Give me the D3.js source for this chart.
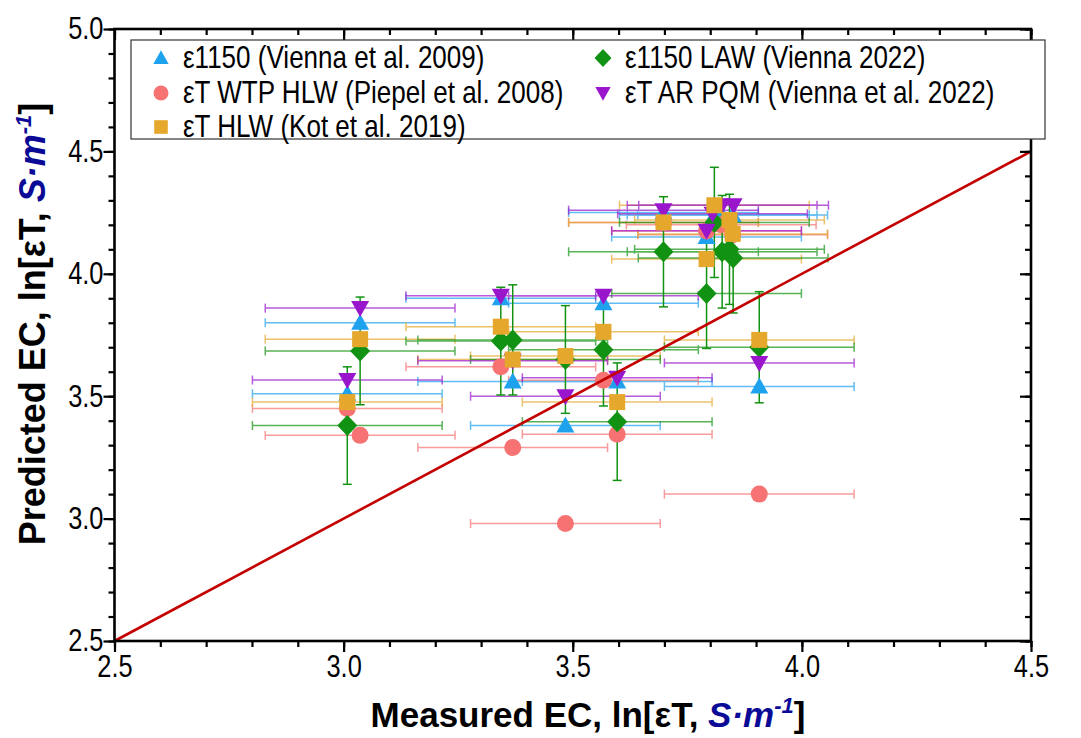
<!DOCTYPE html>
<html><head><meta charset="utf-8">
<script src="https://cdn.jsdelivr.net/npm/d3@7"></script>
<style>body{margin:0;background:#fff;} svg{display:block;font-family:"Liberation Sans",Arial,sans-serif;}</style>
</head><body>
<svg id="chart" width="1081" height="738"></svg>
<script>
// ---- data ----
const seriesNames = ["ε1150 (Vienna et al. 2009)", "εT WTP HLW (Piepel et al. 2008)", "εT HLW (Kot et al. 2019)", "ε1150 LAW (Vienna 2022)", "εT AR PQM (Vienna et al. 2022)"];
const blueX  = [3.008, 3.036, 3.343, 3.369, 3.484, 3.567, 3.597, 3.698, 3.792, 3.809, 3.826, 3.849, 3.907];
const blueY  = [3.51, 3.80, 3.90, 3.56, 3.38, 3.88, 3.56, 4.25, 4.15, 4.24, 4.24, 4.24, 3.54];
const pinkX  = [3.008, 3.036, 3.343, 3.369, 3.484, 3.567, 3.597, 3.698, 3.792, 3.824, 3.849, 3.907];
const pinkY  = [3.45, 3.34, 3.62, 3.29, 2.98, 3.565, 3.345, 4.21, 4.175, 4.20, 4.16, 3.10];
const orangeX = [3.008, 3.036, 3.343, 3.369, 3.484, 3.567, 3.597, 3.698, 3.792, 3.809, 3.842, 3.849, 3.907];
const orangeY = [3.476, 3.733, 3.784, 3.65, 3.664, 3.763, 3.476, 4.21, 4.06, 4.28, 4.22, 4.163, 3.73];
const greenX = [3.008, 3.036, 3.343, 3.369, 3.484, 3.567, 3.597, 3.698, 3.792, 3.809, 3.826, 3.842, 3.85, 3.907];
const greenY = [3.38, 3.685, 3.725, 3.73, 3.65, 3.69, 3.396, 4.09, 3.92, 4.21, 4.09, 4.10, 4.065, 3.70];
const greenYErr = [0.24, 0.22, 0.22, 0.225, 0.22, 0.23, 0.24, 0.225, 0.225, 0.225, 0.23, 0.225, 0.225, 0.227];
const purpleX = [3.008, 3.036, 3.343, 3.369, 3.484, 3.567, 3.597, 3.698, 3.792, 3.805, 3.826, 3.851, 3.907];
const purpleY = [3.566, 3.86, 3.91, 3.645, 3.50, 3.91, 3.575, 4.26, 4.176, 4.245, 4.28, 4.28, 3.636];
const xErr = 0.207;
const xTicks = [2.5, 3.0, 3.5, 4.0, 4.5];
const yTicks = [2.5, 3.0, 3.5, 4.0, 4.5, 5.0];
const lineX = [2.5, 4.5];

const svg = d3.select("#chart");
const L = 114.5, R = 1031, T = 29, B = 641;
const x = d3.scaleLinear().domain([2.5, 4.5]).range([L, R]);
const y = d3.scaleLinear().domain([2.5, 5.0]).range([B, T]);
const SX = 0.82; // narrow text

const colors = {blue:"#1FA2EE", pink:"#F77272", orange:"#E5A82C", green:"#129212", purple:"#9A16CC"};

const g = svg.append("g");
function mk(xs, ys) { return xs.map((v,i)=>({x:v, y:ys[i], i})); }
const blue = mk(blueX, blueY), pink = mk(pinkX, pinkY), orange = mk(orangeX, orangeY),
      green = mk(greenX, greenY), purple = mk(purpleX, purpleY);

function hbars(data, col) {
  const gg = g.append("g").attr("stroke", col).attr("stroke-width", 1.5).attr("opacity", 0.7);
  data.forEach(d => {
    const x0 = x(d.x - xErr), x1 = x(d.x + xErr), yy = y(d.y);
    gg.append("line").attr("x1", x0).attr("x2", x1).attr("y1", yy).attr("y2", yy);
    gg.append("line").attr("x1", x0).attr("x2", x0).attr("y1", yy-4.5).attr("y2", yy+4.5);
    gg.append("line").attr("x1", x1).attr("x2", x1).attr("y1", yy-4.5).attr("y2", yy+4.5);
  });
}
function vbars(data, errs, col) {
  const gg = g.append("g").attr("stroke", col).attr("stroke-width", 1.5);
  data.forEach(d => {
    const xx = x(d.x), y0 = y(d.y - errs[d.i]), y1 = y(d.y + errs[d.i]);
    gg.append("line").attr("x1", xx).attr("x2", xx).attr("y1", y0).attr("y2", y1);
    gg.append("line").attr("x1", xx-4.5).attr("x2", xx+4.5).attr("y1", y0).attr("y2", y0);
    gg.append("line").attr("x1", xx-4.5).attr("x2", xx+4.5).attr("y1", y1).attr("y2", y1);
  });
}
const shapes = {
  up: "M0,-9L9,7L-9,7Z",
  down: "M0,9L9,-7L-9,-7Z",
  square: "M-8,-8L8,-8L8,8L-8,8Z",
  diamond: "M0,-10.5L10,0L0,10.5L-10,0Z",
};
function markers(data, shape, col) {
  const gg = g.append("g");
  data.forEach(d => {
    if (shape === "circle") gg.append("circle").attr("cx", x(d.x)).attr("cy", y(d.y)).attr("r", 8.5).attr("fill", col);
    else gg.append("path").attr("d", shapes[shape]).attr("transform", `translate(${x(d.x)},${y(d.y)})`).attr("fill", col);
  });
}

hbars(blue, colors.blue); hbars(pink, colors.pink); hbars(orange, colors.orange);
hbars(green, colors.green); hbars(purple, colors.purple);
vbars(green, greenYErr, colors.green);
markers(blue, "up", colors.blue);
markers(pink, "circle", colors.pink);
markers(green, "diamond", colors.green);
markers(purple, "down", colors.purple);
markers(orange, "square", colors.orange);

// y = x line
g.append("line").attr("x1", x(lineX[0])).attr("y1", y(lineX[0])).attr("x2", x(lineX[1])).attr("y2", y(lineX[1]))
  .attr("stroke", "#C40000").attr("stroke-width", 2.6);

// axes
const minorX = d3.range(25, 46).map(v => v/10);
const minorY = d3.range(25, 51).map(v => v/10);
function styleAxis(sel) {
  sel.select(".domain").remove();
  sel.selectAll("line").attr("stroke", "#000").attr("stroke-width", 2.2);
}
const fs = "31px";
svg.append("g").attr("transform", `translate(0,${B})`)
  .call(d3.axisBottom(x).tickValues(minorX).tickSize(6).tickFormat(""))
  .call(styleAxis);
svg.append("g").attr("transform", `translate(0,${B})`)
  .call(d3.axisBottom(x).tickValues(xTicks).tickSize(11).tickPadding(3).tickFormat(d3.format(".1f")))
  .call(styleAxis).call(s => s.selectAll("text").attr("font-size", fs).attr("fill", "#000")
     .attr("transform", `scale(${SX},1)`));
svg.append("g").attr("transform", `translate(${L},0)`)
  .call(d3.axisLeft(y).tickValues(minorY).tickSize(6).tickFormat(""))
  .call(styleAxis);
svg.append("g").attr("transform", `translate(${L},0)`)
  .call(d3.axisLeft(y).tickValues(yTicks).tickSize(11).tickPadding(0).tickFormat(d3.format(".1f")))
  .call(styleAxis).call(s => s.selectAll("text").attr("font-size", fs).attr("fill", "#000")
     .attr("x", -11 / SX).attr("transform", `scale(${SX},1)`));
// top & right inward
svg.append("g").attr("transform", `translate(0,${T})`)
  .call(d3.axisTop(x).tickValues(minorX).tickSize(-6).tickFormat("")).call(styleAxis);
svg.append("g").attr("transform", `translate(0,${T})`)
  .call(d3.axisTop(x).tickValues(xTicks).tickSize(-11).tickFormat("")).call(styleAxis);
svg.append("g").attr("transform", `translate(${R},0)`)
  .call(d3.axisRight(y).tickValues(minorY).tickSize(-6).tickFormat("")).call(styleAxis);
svg.append("g").attr("transform", `translate(${R},0)`)
  .call(d3.axisRight(y).tickValues(yTicks).tickSize(-11).tickFormat("")).call(styleAxis);
svg.append("rect").attr("x", L).attr("y", T).attr("width", R-L).attr("height", B-T)
  .attr("fill", "none").attr("stroke", "#000").attr("stroke-width", 2.6);

// axis titles
function title(sel) {
  sel.append("tspan").text("ln[εT, ");
  sel.append("tspan").text("S·m").attr("fill", "#0A0A96").attr("font-style", "italic");
  sel.append("tspan").text("-1").attr("fill", "#0A0A96").attr("font-style", "italic").attr("font-size", "22px").attr("dy", -14);
  sel.append("tspan").text("]").attr("dy", 14);
}
const xt = svg.append("text").attr("x", 588).attr("y", 727).attr("text-anchor", "middle")
  .attr("font-size", "35px").attr("font-weight", "bold").attr("fill", "#000");
xt.append("tspan").text("Measured EC, "); title(xt);
const yt = svg.append("text").attr("transform", `translate(45,324) rotate(-90)`).attr("text-anchor", "middle")
  .attr("font-size", "36px").attr("font-weight", "bold").attr("fill", "#000");
yt.append("tspan").text("Predicted EC, "); title(yt);

// legend
const lg = svg.append("g");
lg.append("rect").attr("x", 131).attr("y", 40).attr("width", 914).attr("height", 99)
  .attr("fill", "#fff").attr("stroke", "#333").attr("stroke-width", 1.2);
const legItems = [
  {name: seriesNames[0], shape:"up", col:colors.blue, lx:161, ly:58},
  {name: seriesNames[1], shape:"circle", col:colors.pink, lx:161, ly:93},
  {name: seriesNames[2], shape:"square", col:colors.orange, lx:161, ly:127},
  {name: seriesNames[3], shape:"diamond", col:colors.green, lx:603, ly:58},
  {name: seriesNames[4], shape:"down", col:colors.purple, lx:603, ly:93},
];
legItems.forEach(it => {
  if (it.shape === "circle") lg.append("circle").attr("cx", it.lx).attr("cy", it.ly).attr("r", 7.5).attr("fill", it.col);
  else lg.append("path").attr("d", shapes[it.shape]).attr("transform", `translate(${it.lx},${it.ly}) scale(0.85)`).attr("fill", it.col);
  lg.append("text").attr("transform", `translate(${it.lx + 22},${it.ly + 10}) scale(0.84,1)`)
    .attr("font-size", "31px").attr("fill", "#000").text(it.name);
});
</script>
</body></html>
